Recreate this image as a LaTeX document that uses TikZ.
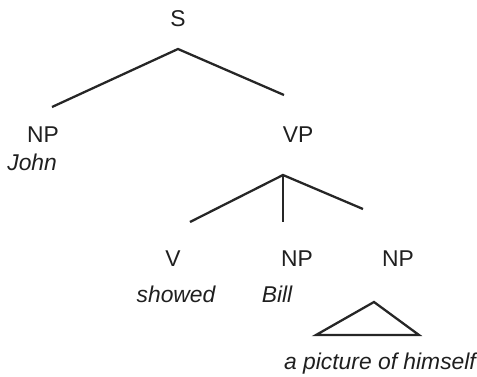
\documentclass[tikz,border=0pt]{standalone}
\usepackage{fontspec}
\setmainfont{Liberation Sans}
\begin{document}
\begin{tikzpicture}[x=0.02cm, y=-0.02cm,
    cat/.style={inner sep=0pt, text=black!88, font=\fontsize{13}{15}\selectfont},
    word/.style={cat, font=\fontsize{13}{15}\selectfont\itshape},
    branch/.style={line width=1.3pt, draw=black!85}]
    \useasboundingbox (0, 0) rectangle (477, 376);
    % top level
    \node[cat] (s) at (178, 19) {S};
    \node[cat] (np-subj) at (43, 135) {NP};
    \node[word, anchor=west] (john) at (7, 162) {John};
    \node[cat] (vp) at (298, 135) {VP};
    \coordinate (s-top) at (178, 49);
    \coordinate (s-left) at (52, 107);
    \coordinate (s-right) at (284, 95);
    \draw[branch] (s-left) -- (s-top) -- (s-right);
    % verb phrase
    \coordinate (vp-top) at (283, 175);
    \coordinate (vp-left) at (190, 222);
    \coordinate (vp-mid) at (283, 222);
    \coordinate (vp-right) at (363, 209);
    \draw[branch] (vp-left) -- (vp-top) -- (vp-right);
    \draw[branch] (vp-top) -- (vp-mid);
    \node[cat] (v) at (173, 259) {V};
    \node[cat] (np-obj) at (297, 259) {NP};
    \node[cat] (np-pic) at (398, 259) {NP};
    \node[word] (showed) at (176, 294) {showed};
    \node[word] (bill) at (277, 294) {Bill};
    % triangle
    \coordinate (tri-top) at (374, 302);
    \coordinate (tri-left) at (316, 335);
    \coordinate (tri-right) at (419, 335);
    \draw[branch] (tri-left) -- (tri-top) -- (tri-right) -- cycle;
    \node[word] (picture) at (380, 364) {a picture of himself};
\end{tikzpicture}
\end{document}
